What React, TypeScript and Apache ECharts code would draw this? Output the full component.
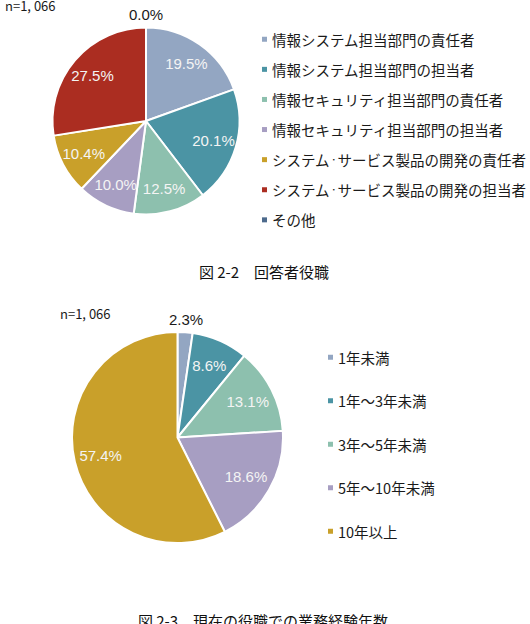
import React, { useEffect, useRef } from 'react';
import * as echarts from 'echarts';

const roleNames = [
  '情報システム担当部門の責任者',
  '情報システム担当部門の担当者',
  '情報セキュリティ担当部門の責任者',
  '情報セキュリティ担当部門の担当者',
  'システム・サービス製品の開発の責任者',
  'システム・サービス製品の開発の担当者',
  'その他',
];
const roleValues = [19.5, 20.1, 12.5, 10.0, 10.4, 27.5, 0.0];
const roleColors = ['#93A6C2', '#4B94A4', '#8DC0AE', '#A79EC2', '#C9A02A', '#AB2D21', '#4D6A8C'];

const yearNames = ['1年未満', '1年～3年未満', '3年～5年未満', '5年～10年未満', '10年以上'];
const yearValues = [2.3, 8.6, 13.1, 18.6, 57.4];
const yearColors = ['#93A6C2', '#4B94A4', '#8DC0AE', '#A79EC2', '#C9A02A'];

const sampleText = 'n=1, 066';
const title1 = '図 2-2　回答者役職';
const title2 = '図 2-3　現在の役職での業務経験年数';

const OUTSIDE_BELOW = 3;
const pct = (v: number) => v.toFixed(1) + '%';
const JP = '"Noto Sans CJK JP", sans-serif';
const LAT = '"Liberation Sans", Arial, sans-serif';

function pieSeries(names: string[], values: number[], colors: string[], center: number[], r: number) {
  const main = {
    type: 'pie',
    center,
    radius: [0, r],
    startAngle: 90,
    clockwise: true,
    silent: true,
    avoidLabelOverlap: false,
    itemStyle: { borderColor: '#ffffff', borderWidth: 2 },
    label: { show: false },
    labelLine: { show: false, length: 13, length2: 0 },
    labelLayout: { align: 'center' },
    data: names.map((n, i) => ({
      name: n,
      value: values[i],
      itemStyle: { color: colors[i] },
      label: {
        show: values[i] < OUTSIDE_BELOW,
        position: 'outside',
        distanceToLabelLine: 0,
        color: '#1a1a1a',
        fontSize: 15,
        fontFamily: LAT,
        formatter: (p: any) => pct(p.value),
      },
    })),
  };
  const overlay = {
    type: 'pie',
    center,
    radius: [r * 0.44, r],
    startAngle: 90,
    clockwise: true,
    silent: true,
    itemStyle: { color: 'rgba(0,0,0,0)', borderWidth: 0 },
    labelLine: { show: false },
    data: names.map((n, i) => ({
      name: n,
      value: values[i],
      label: {
        show: values[i] >= OUTSIDE_BELOW,
        position: 'inside',
        color: '#f4f4f4',
        fontSize: 15,
        fontFamily: LAT,
        formatter: (p: any) => pct(p.value),
      },
    })),
  };
  return [main, overlay];
}

export default function App() {
  const ref = useRef<HTMLDivElement>(null);
  useEffect(() => {
    if (!ref.current) return;
    const chart = echarts.init(ref.current, undefined, { renderer: 'svg' });
    const legendText = {
      color: '#1a1a1a',
      fontSize: 14.5,
      fontFamily: JP,
      rich: { dot: { fontSize: 7.5, color: '#1a1a1a', fontFamily: JP } },
    };
    chart.setOption({
      animation: false,
      backgroundColor: '#ffffff',
      title: [
        { text: sampleText, left: 0, top: -6, padding: 5, textStyle: { fontSize: 13, fontWeight: 'normal', color: '#1a1a1a', fontFamily: JP } },
        { text: title1, left: 259, top: 259, textAlign: 'center', textStyle: { fontSize: 15, fontWeight: 'normal', color: '#111', fontFamily: JP } },
        { text: sampleText, left: 55, top: 302, textStyle: { fontSize: 13, fontWeight: 'normal', color: '#1a1a1a', fontFamily: JP } },
        { text: title2, left: 258, top: 608, textAlign: 'center', textStyle: { fontSize: 15, fontWeight: 'normal', color: '#111', fontFamily: JP } },
      ],
      legend: [
        {
          orient: 'vertical',
          left: 262,
          top: 32,
          padding: 0,
          icon: 'rect',
          itemWidth: 5,
          itemHeight: 5,
          itemGap: 15.6,
          selectedMode: false,
          itemStyle: { borderWidth: 0 },
          data: roleNames,
          formatter: (name: string) => name.split('・').join('{dot|・}'),
          textStyle: legendText,
        },
        {
          orient: 'vertical',
          left: 328,
          top: 350,
          padding: 0,
          icon: 'rect',
          itemWidth: 5,
          itemHeight: 5,
          itemGap: 29,
          selectedMode: false,
          itemStyle: { borderWidth: 0 },
          data: yearNames,
          textStyle: legendText,
        },
      ],
      series: [
        ...pieSeries(roleNames, roleValues, roleColors, [146, 121], 93.5),
        ...pieSeries(yearNames, yearValues, yearColors, [177.5, 437.5], 105.5),
      ],
    });
    return () => chart.dispose();
  }, []);
  return <div ref={ref} style={{ position: 'absolute', left: 0, top: 0, width: 530, height: 624 }} />;
}
